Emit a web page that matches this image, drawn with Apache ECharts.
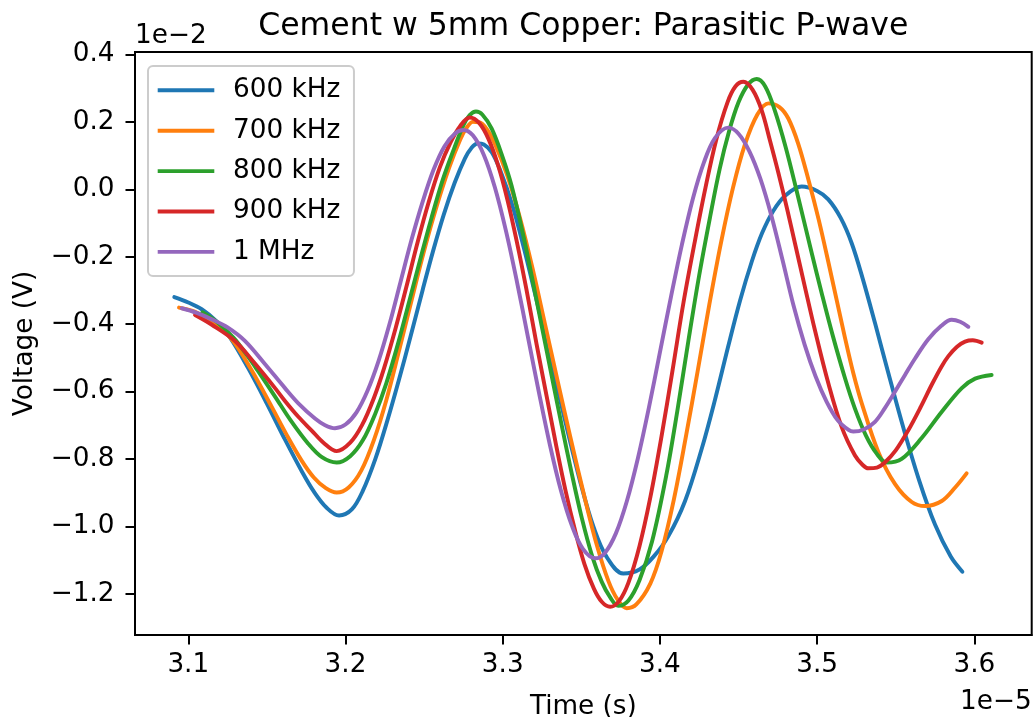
<!DOCTYPE html>
<html>
<head>
<meta charset="utf-8">
<title>Cement w 5mm Copper: Parasitic P-wave</title>
<script src="https://cdn.jsdelivr.net/npm/echarts@6/dist/echarts.min.js"></script>
<style>
  html, body { margin: 0; padding: 0; background: #ffffff; }
  #chart { width: 1034px; height: 717px; }
</style>
</head>
<body>
<div id="chart"></div>
<script>
// Time in units of 1e-5 s, voltage in units of 1e-2 V (offsets shown beside the axes).
const seriesNames = ['600 kHz', '700 kHz', '800 kHz', '900 kHz', '1 MHz'];
const seriesColors = ['#1f77b4', '#ff7f0e', '#2ca02c', '#d62728', '#9467bd'];

const t600 = [3.0911,3.1000,3.1085,3.1180,3.1266,3.1380,3.1499,3.1610,3.1721,3.1800,3.1880,3.1959,3.2040,3.2110,3.2190,3.2267,3.2340,3.2412,3.2490,3.2556,3.2625,3.2695,3.2760,3.2800,3.2840,3.2880,3.2930,3.2981,3.3060,3.3138,3.3210,3.3290,3.3396,3.3503,3.3580,3.3660,3.3767,3.3870,3.3960,3.4053,3.4160,3.4266,3.4350,3.4435,3.4510,3.4584,3.4650,3.4720,3.4800,3.4902,3.5000,3.5071,3.5150,3.5220,3.5290,3.5370,3.5450,3.5550,3.5650,3.5750,3.5850,3.5924];
const v600 = [-0.320,-0.336,-0.356,-0.392,-0.440,-0.530,-0.635,-0.738,-0.836,-0.898,-0.945,-0.968,-0.950,-0.895,-0.800,-0.685,-0.565,-0.440,-0.300,-0.185,-0.075,0.020,0.092,0.122,0.136,0.133,0.110,0.060,-0.045,-0.180,-0.318,-0.475,-0.685,-0.885,-1.005,-1.090,-1.140,-1.128,-1.090,-1.030,-0.925,-0.770,-0.625,-0.465,-0.330,-0.215,-0.130,-0.065,-0.018,0.008,-0.005,-0.030,-0.085,-0.160,-0.265,-0.400,-0.540,-0.710,-0.865,-0.995,-1.090,-1.135];

const t700 = [3.0941,3.1040,3.1150,3.1276,3.1400,3.1530,3.1625,3.1721,3.1800,3.1875,3.1944,3.2020,3.2100,3.2180,3.2260,3.2340,3.2420,3.2500,3.2580,3.2660,3.2730,3.2770,3.2810,3.2850,3.2900,3.2950,3.3030,3.3110,3.3190,3.3269,3.3350,3.3430,3.3524,3.3600,3.3672,3.3730,3.3789,3.3850,3.3939,3.4010,3.4089,3.4165,3.4240,3.4315,3.4390,3.4465,3.4540,3.4620,3.4690,3.4760,3.4817,3.4880,3.4944,3.5010,3.5071,3.5177,3.5230,3.5284,3.5390,3.5496,3.5602,3.5687,3.5793,3.5878,3.5951];
const v700 = [-0.351,-0.363,-0.392,-0.445,-0.535,-0.645,-0.728,-0.805,-0.856,-0.887,-0.900,-0.885,-0.835,-0.745,-0.625,-0.480,-0.330,-0.182,-0.050,0.065,0.148,0.182,0.200,0.199,0.178,0.135,0.040,-0.085,-0.235,-0.400,-0.570,-0.735,-0.920,-1.058,-1.162,-1.217,-1.243,-1.232,-1.170,-1.075,-0.920,-0.735,-0.540,-0.340,-0.155,0.005,0.132,0.222,0.255,0.244,0.210,0.135,0.030,-0.090,-0.215,-0.440,-0.545,-0.635,-0.780,-0.875,-0.928,-0.940,-0.925,-0.885,-0.843];

const t800 = [3.1090,3.1180,3.1287,3.1370,3.1440,3.1552,3.1650,3.1763,3.1850,3.1944,3.2030,3.2110,3.2190,3.2260,3.2336,3.2404,3.2480,3.2547,3.2620,3.2690,3.2750,3.2790,3.2830,3.2870,3.2930,3.3000,3.3057,3.3130,3.3190,3.3248,3.3310,3.3375,3.3440,3.3503,3.3570,3.3630,3.3685,3.3735,3.3800,3.3870,3.3950,3.4040,3.4110,3.4181,3.4250,3.4320,3.4380,3.4440,3.4500,3.4560,3.4616,3.4670,3.4730,3.4800,3.4870,3.4966,3.5030,3.5100,3.5177,3.5240,3.5310,3.5380,3.5443,3.5538,3.5665,3.5793,3.5920,3.6005,3.6110];
const v800 = [-0.365,-0.393,-0.440,-0.490,-0.537,-0.615,-0.685,-0.755,-0.795,-0.811,-0.792,-0.745,-0.665,-0.575,-0.455,-0.335,-0.200,-0.085,0.030,0.120,0.190,0.220,0.231,0.222,0.180,0.095,0.010,-0.135,-0.270,-0.405,-0.550,-0.700,-0.845,-0.975,-1.090,-1.165,-1.212,-1.236,-1.220,-1.160,-1.045,-0.850,-0.660,-0.450,-0.255,-0.080,0.060,0.172,0.258,0.310,0.327,0.305,0.235,0.125,-0.005,-0.190,-0.310,-0.435,-0.560,-0.650,-0.730,-0.785,-0.811,-0.800,-0.738,-0.660,-0.590,-0.562,-0.551];

const t900 = [3.1043,3.1150,3.1297,3.1420,3.1552,3.1615,3.1700,3.1785,3.1860,3.1944,3.2030,3.2105,3.2180,3.2246,3.2320,3.2387,3.2460,3.2528,3.2600,3.2669,3.2730,3.2790,3.2850,3.2910,3.2970,3.3030,3.3090,3.3150,3.3216,3.3280,3.3340,3.3400,3.3460,3.3520,3.3580,3.3630,3.3683,3.3740,3.3800,3.3870,3.3940,3.4010,3.4080,3.4150,3.4220,3.4290,3.4360,3.4430,3.4480,3.4531,3.4590,3.4647,3.4700,3.4753,3.4810,3.4859,3.4920,3.4987,3.5071,3.5156,3.5241,3.5290,3.5326,3.5380,3.5432,3.5500,3.5580,3.5660,3.5729,3.5790,3.5835,3.5890,3.5941,3.5990,3.6047];
const v900 = [-0.373,-0.402,-0.450,-0.515,-0.590,-0.628,-0.675,-0.716,-0.752,-0.777,-0.752,-0.700,-0.620,-0.530,-0.410,-0.290,-0.155,-0.040,0.065,0.140,0.188,0.213,0.197,0.149,0.072,-0.031,-0.156,-0.295,-0.461,-0.615,-0.760,-0.895,-1.012,-1.112,-1.185,-1.224,-1.239,-1.222,-1.167,-1.059,-0.912,-0.734,-0.538,-0.336,-0.160,0.005,0.150,0.258,0.305,0.319,0.295,0.235,0.145,0.050,-0.060,-0.160,-0.285,-0.420,-0.575,-0.705,-0.790,-0.818,-0.828,-0.826,-0.810,-0.775,-0.715,-0.645,-0.580,-0.527,-0.495,-0.467,-0.452,-0.448,-0.455];

const t1000 = [3.0958,3.1050,3.1150,3.1250,3.1360,3.1490,3.1615,3.1700,3.1806,3.1870,3.1933,3.2000,3.2070,3.2140,3.2210,3.2280,3.2350,3.2420,3.2490,3.2560,3.2630,3.2700,3.2750,3.2810,3.2880,3.2950,3.3020,3.3090,3.3160,3.3230,3.3300,3.3370,3.3440,3.3510,3.3589,3.3650,3.3720,3.3790,3.3860,3.3930,3.4000,3.4070,3.4140,3.4210,3.4280,3.4350,3.4435,3.4500,3.4570,3.4640,3.4710,3.4780,3.4850,3.4920,3.4990,3.5060,3.5130,3.5200,3.5230,3.5300,3.5368,3.5430,3.5496,3.5560,3.5623,3.5707,3.5790,3.5856,3.5910,3.5962];
const v1000 = [-0.353,-0.366,-0.386,-0.410,-0.450,-0.520,-0.590,-0.635,-0.680,-0.700,-0.709,-0.698,-0.662,-0.598,-0.510,-0.400,-0.275,-0.150,-0.038,0.058,0.128,0.167,0.176,0.160,0.102,0.006,-0.122,-0.273,-0.437,-0.602,-0.758,-0.893,-0.998,-1.067,-1.095,-1.079,-1.021,-0.925,-0.798,-0.648,-0.484,-0.320,-0.164,-0.027,0.080,0.152,0.183,0.165,0.112,0.030,-0.080,-0.210,-0.345,-0.460,-0.555,-0.630,-0.685,-0.714,-0.719,-0.712,-0.690,-0.650,-0.600,-0.550,-0.502,-0.445,-0.405,-0.387,-0.393,-0.408];

const timeSeries = [t600, t700, t800, t900, t1000];
const voltSeries = [v600, v700, v800, v900, v1000];

const xTicks = [3.1, 3.2, 3.3, 3.4, 3.5, 3.6];
const yTicks = [-1.2, -1.0, -0.8, -0.6, -0.4, -0.2, 0.0, 0.2, 0.4];

const FONT = 'DejaVu Sans';
const BASE = 26.3;

function zip(t, v) {
  return t.map((x, i) => [x, v[i]]);
}

const chart = echarts.init(document.getElementById('chart'), null, { renderer: 'canvas' });

const option = {
  backgroundColor: '#ffffff',
  animation: false,
  textStyle: { fontFamily: FONT },
  grid: {
    left: 135, right: 2.3, top: 52, bottom: 82,
    show: true, borderColor: '#000000', borderWidth: 2,
    outerBoundsMode: 'none'
  },
  xAxis: {
    type: 'value',
    z: 10,
    min: 3.0661, max: 3.6365,
    name: 'Time (s)',
    nameLocation: 'middle',
    nameGap: 59,
    nameTextStyle: { fontSize: BASE, color: '#000', fontFamily: FONT },
    axisLine: { show: true, onZero: false, lineStyle: { color: '#000000', width: 2 } },
    axisTick: { show: true, length: 9.5, lineStyle: { color: '#000000', width: 2 }, customValues: xTicks },
    axisLabel: {
      customValues: xTicks, margin: 17.5,
      fontSize: BASE, color: '#000', fontFamily: FONT,
      formatter: v => v.toFixed(1)
    },
    splitLine: { show: false }
  },
  yAxis: {
    type: 'value',
    z: 10,
    min: -1.3226, max: 0.4074,
    name: 'Voltage (V)',
    nameLocation: 'middle',
    nameGap: 97,
    nameTextStyle: { fontSize: BASE, color: '#000', fontFamily: FONT },
    axisLine: { show: true, onZero: false, lineStyle: { color: '#000000', width: 2 } },
    axisTick: { show: true, length: 9.5, lineStyle: { color: '#000000', width: 2 }, customValues: yTicks },
    axisLabel: {
      customValues: yTicks, margin: 20.5,
      fontSize: BASE, color: '#000', fontFamily: FONT,
      formatter: v => (v < 0 ? '\u2212' : '') + Math.abs(v).toFixed(1)
    },
    splitLine: { show: false }
  },
  legend: {
    data: seriesNames,
    orient: 'vertical',
    left: 148, top: 66,
    padding: [9.3, 13.6, 9, 9.7],
    itemWidth: 56.6, itemHeight: 3.9, itemGap: 10.4,
    icon: 'rect',
    selectedMode: false,
    backgroundColor: 'rgba(255,255,255,0.8)',
    borderColor: '#cccccc', borderWidth: 2, borderRadius: 5,
    textStyle: { fontSize: BASE, color: '#000', fontFamily: FONT, lineHeight: 30, padding: [0, 0, 0, 13.7] }
  },
  graphic: [
    {
      type: 'text', x: 583.3, y: 26.8, silent: true,
      style: { text: 'Cement w 5mm Copper: Parasitic P-wave', font: '31.5px "DejaVu Sans"', fill: '#000', textAlign: 'center', textVerticalAlign: 'middle' }
    },
    {
      type: 'text', x: 135, y: 35.9, silent: true,
      style: { text: '1e\u22122', font: BASE + 'px "DejaVu Sans"', fill: '#000', textAlign: 'left', textVerticalAlign: 'middle' }
    },
    {
      type: 'text', x: 1031.7, y: 701.9, silent: true,
      style: { text: '1e\u22125', font: BASE + 'px "DejaVu Sans"', fill: '#000', textAlign: 'right', textVerticalAlign: 'middle' }
    }
  ],
  series: seriesNames.map((name, i) => ({
    name: name,
    type: 'line',
    data: zip(timeSeries[i], voltSeries[i]),
    showSymbol: false,
    smooth: 0.35,
    color: seriesColors[i],
    lineStyle: { width: 3.95, color: seriesColors[i], cap: 'round', join: 'round' },
    emphasis: { disabled: true }
  }))
};

chart.setOption(option);
</script>
</body>
</html>
